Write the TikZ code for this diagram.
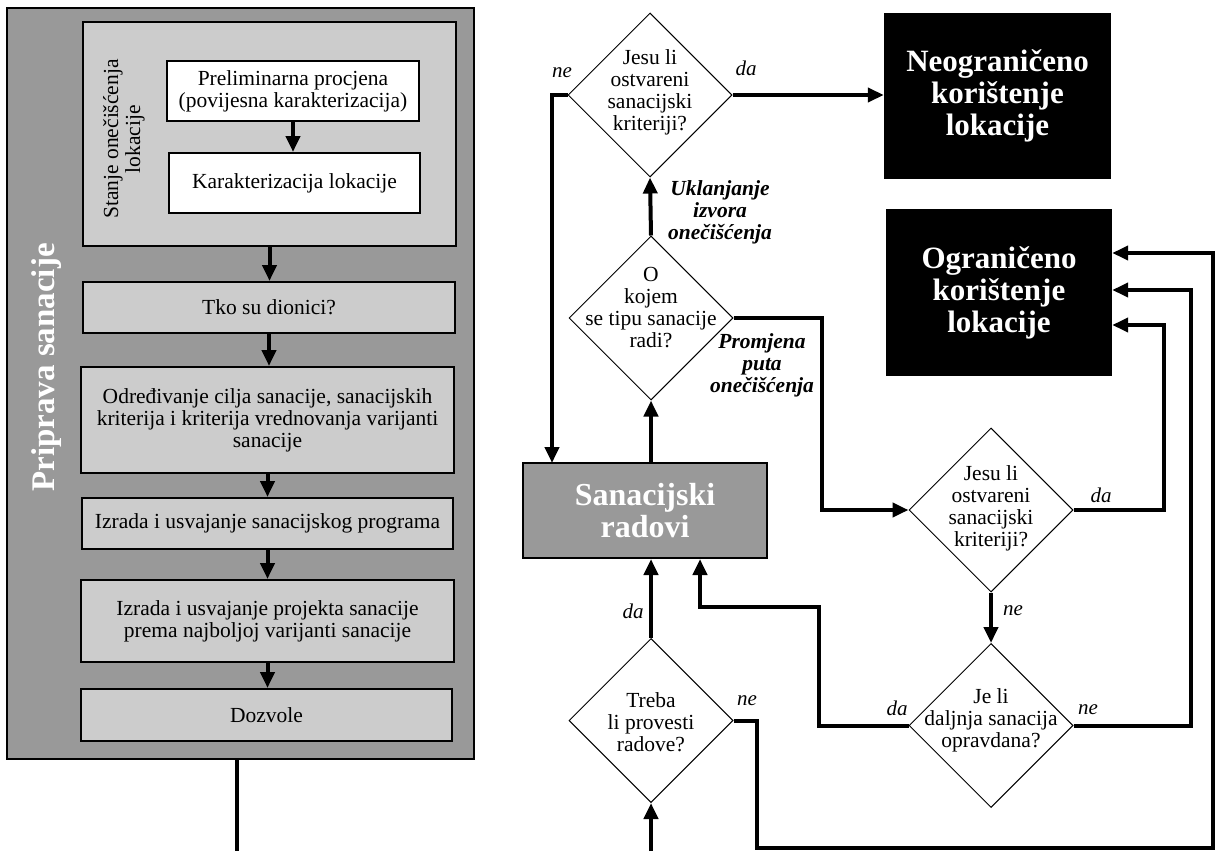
\documentclass[tikz,border=0pt]{standalone}
\usepackage{fontspec}
\setmainfont{Liberation Serif}
\usetikzlibrary{arrows.meta,shapes.geometric,calc}
\definecolor{gdark}{RGB}{153,153,153}
\definecolor{glight}{RGB}{204,204,204}
\begin{document}
\begin{tikzpicture}[x=1pt,y=-1pt,
  conn/.style={line width=4pt},
  arr/.style={conn,-{Triangle[length=16pt,width=14pt]}},
  boxl/.style={draw,line width=2pt,fill=glight,inner sep=0pt,align=center,font=\fontsize{21.5}{22}\selectfont},
  dia/.style={draw,line width=1pt,diamond,aspect=1,inner sep=0pt,minimum width=164pt,minimum height=164pt,fill=white},
  dtext/.style={align=center,font=\fontsize{21.5}{22}\selectfont,inner sep=0pt},
  lab/.style={font=\fontsize{21}{22}\selectfont\itshape,inner sep=0pt},
  blab/.style={align=center,font=\fontsize{21.5}{22}\selectfont\bfseries\itshape,inner sep=0pt},
  endbox/.style={fill=black,text=white,inner sep=0pt,align=center,font=\fontsize{31}{32}\selectfont\bfseries},
]
\useasboundingbox (0,0) rectangle (1217,851);

% ---------- left part ----------
\node[draw,line width=2pt,fill=gdark,minimum width=467pt,minimum height=751pt,inner sep=0pt] (outer) at (240.5,383.5) {};
\node[rotate=90,text=white,font=\fontsize{33}{34}\selectfont\bfseries,inner sep=0pt] (prip) at (47,367.5) {Priprava sanacije};

\node[boxl,minimum width=373pt,minimum height=224pt] (inner) at (269.5,134) {};
\node[rotate=90,align=center,font=\fontsize{21.5}{22}\selectfont,inner sep=0pt] (stanje) at (124,139) {Stanje onečišćenja\\lokacije};

\node[boxl,fill=white,minimum width=252pt,minimum height=60pt] (prel) at (293,91) {Preliminarna procjena\\(povijesna karakterizacija)};
\node[boxl,fill=white,minimum width=251pt,minimum height=60pt] (kar) at (294.5,183) {Karakterizacija lokacije};

\node[boxl,minimum width=372pt,minimum height=51pt] (tko) at (269,307.5) {Tko su dionici?};
\node[boxl,minimum width=373pt,minimum height=106pt] (odr) at (267.5,420) {Određivanje cilja sanacije, sanacijskih\\kriterija i kriterija vrednovanja varijanti\\sanacije};
\node[boxl,minimum width=371pt,minimum height=51pt] (izr1) at (267.5,523.5) {Izrada i usvajanje sanacijskog programa};
\node[boxl,minimum width=373pt,minimum height=82pt] (izr2) at (267.5,621) {Izrada i usvajanje projekta sanacije\\prema najboljoj varijanti sanacije};
\node[boxl,minimum width=371pt,minimum height=52pt] (doz) at (266.5,715) {Dozvole};

\draw[arr] (prel.south) -- (prel.south |- kar.north);
\draw[arr] (inner.south) -- (inner.south |- tko.north);
\draw[arr] (tko.south) -- (tko.south |- odr.north);
\draw[arr] (odr.south) -- (odr.south |- izr1.north);
\draw[arr] (izr1.south) -- (izr1.south |- izr2.north);
\draw[arr] (izr2.south) -- (izr2.south |- doz.north);

\coordinate (botL) at (237,851);
\draw[conn] (outer.south -| botL) -- (botL);

% ---------- right part ----------
\node[dia] (d1) at (650,95) {};
\node[dtext] (d1t) at (650,92) {Jesu li\\ostvareni\\sanacijski\\kriteriji?};
\node[endbox,minimum width=227pt,minimum height=166pt] (neo) at (997.5,96) {Neograničeno\\korištenje\\lokacije};

\node[dia] (d2) at (651,318) {};
\node[dtext] (d2t) at (651,308) {O\\kojem\\se tipu sanacije\\radi?};

\node[draw,line width=2pt,fill=gdark,text=white,minimum width=244pt,minimum height=95pt,inner sep=0pt,align=center,font=\fontsize{32}{32}\selectfont\bfseries] (san) at (645,510.5) {Sanacijski\\radovi};

\node[dia] (d3) at (991,510) {};
\node[dtext] (d3t) at (991,508) {Jesu li\\ostvareni\\sanacijski\\kriteriji?};
\node[endbox,minimum width=226pt,minimum height=167pt] (ogr) at (999,292.5) {Ograničeno\\korištenje\\lokacije};

\node[dia] (d4) at (991,725.5) {};
\node[dtext] (d4t) at (991,720) {Je li\\daljnja sanacija\\opravdana?};

\node[dia] (d5) at (651,720.5) {};
\node[dtext] (d5t) at (651,722) {Treba\\li provesti\\radove?};

% connectors
\draw[arr] (d1.east) -- (d1.east -| neo.west);
\coordinate (sTop) at (552,463);
\draw[arr] (d1.west) -| (sTop);
\draw[arr] (d2.south |- san.north) -- (d2.south);
\draw[arr] (d2.north) -- (d1.south);
\draw[arr] (d2.east) -- ++(88,0) |- (d3.west);
\draw[arr] (d3.east) -- ++(90,0) |- ($(ogr.east)+(0,32.5)$);
\draw[arr] (d3.south) -- (d4.north);
\draw[arr] (d4.west) -| (819,607) -| ($(san.south west)+(178,0)$);
\draw[arr] (d4.east) -- ++(117,0) |- ($(ogr.east)+(0,-2.5)$);
\draw[arr] (d5.north) -- (d5.north |- san.south);
\coordinate (botR) at (651,851);
\draw[arr] (botR) -- (d5.south);
\draw[arr] (d5.east) -- ++(23,0) |- (1213,848) |- ($(ogr.east)+(0,-39.5)$);

% labels
\node[lab] (l1) at (562,73) {ne};
\node[lab] (l2) at (746,68) {da};
\node[blab] (l3) at (720,212) {Uklanjanje\\izvora\\onečišćenja};
\node[blab] (l4) at (762,365) {Promjena\\puta\\onečišćenja};
\node[lab] (l5) at (1101,495) {da};
\node[lab] (l6) at (1013,611) {ne};
\node[lab] (l7) at (897,708) {da};
\node[lab] (l8) at (1088,710) {ne};
\node[lab] (l9) at (633,611) {da};
\node[lab] (l10) at (747,701) {ne};
\end{tikzpicture}
\end{document}
